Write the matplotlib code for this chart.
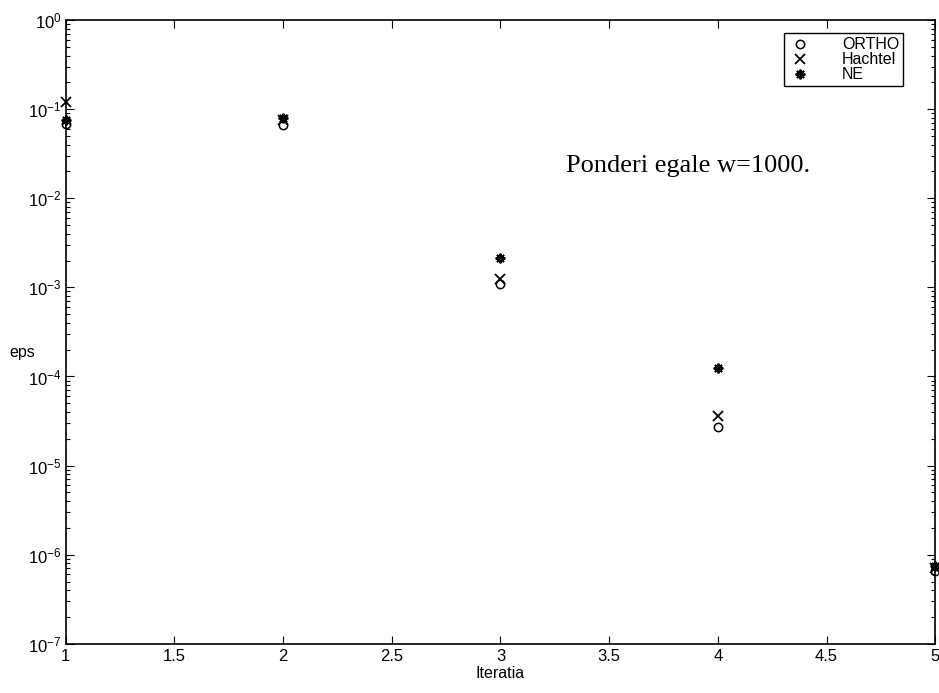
import numpy as np
import matplotlib.pyplot as plt
from matplotlib.ticker import LogLocator, FixedLocator, NullFormatter

plt.rcParams['font.family'] = ['Liberation Sans', 'DejaVu Sans']
plt.rcParams['mathtext.default'] = 'regular'

# --- data ---
iteratii = [1, 2, 3, 4, 5]
eps_ortho = [0.068, 0.066, 1.1e-3, 2.7e-5, 6.5e-7]
eps_hachtel = [0.12, 0.075, 1.25e-3, 3.6e-5, 7.0e-7]
eps_ne = [0.076, 0.079, 2.15e-3, 1.25e-4, 7.5e-7]
x_ticks = [1, 1.5, 2, 2.5, 3, 3.5, 4, 4.5, 5]

# --- figure ---
fig = plt.figure(figsize=(9.39, 6.93), dpi=100)
ax = fig.add_axes([0.070, 0.071, 0.926, 0.900])

ax.semilogy(iteratii, eps_ortho, 'o', mfc='none', mec='black', ms=6,
            mew=1.1, label='ORTHO', clip_on=False)
ax.semilogy(iteratii, eps_hachtel, 'x', color='black', ms=6.5, mew=1.3,
            label='Hachtel', clip_on=False)
ax.semilogy(iteratii, eps_ne, marker=(8, 2, 0), ls='none', color='black',
            ms=7, mew=1.4, label='NE', clip_on=False)

ax.set_xlim(1, 5)
ax.set_ylim(1e-7, 1)
ax.xaxis.set_major_locator(FixedLocator(x_ticks))
ax.set_xticklabels(['1', '1.5', '2', '2.5', '3', '3.5', '4', '4.5', '5'])
ax.yaxis.set_major_locator(LogLocator(base=10, numticks=10))
ax.yaxis.set_minor_locator(LogLocator(base=10, subs=np.arange(2, 10), numticks=10))
ax.yaxis.set_minor_formatter(NullFormatter())

ax.tick_params(which='both', direction='in', top=True, right=True,
               labelsize=12, width=0.8)
ax.tick_params(which='major', length=6)
ax.tick_params(which='minor', length=3)
ax.tick_params(axis='x', pad=4)
ax.tick_params(axis='y', pad=3)
for s in ax.spines.values():
    s.set_linewidth(1.2)

ax.set_xlabel('Iteratia', fontsize=11.5, labelpad=1)
ax.set_ylabel('eps', fontsize=11.5, rotation=0, labelpad=2)
ax.yaxis.set_label_coords(-0.05, 0.455)

ax.text(3.3, 0.0195, 'Ponderi egale w=1000.', fontsize=19,
        family=['Liberation Serif', 'DejaVu Serif'])

leg = ax.legend(loc='upper right', bbox_to_anchor=(0.963, 0.979),
                borderaxespad=0, fancybox=False, edgecolor='black',
                framealpha=1, fontsize=11.5, labelspacing=0.0,
                handlelength=1.5, handletextpad=1.9, borderpad=0.25)
leg.get_frame().set_linewidth(1.0)

fig.savefig('out.png', dpi=100)
